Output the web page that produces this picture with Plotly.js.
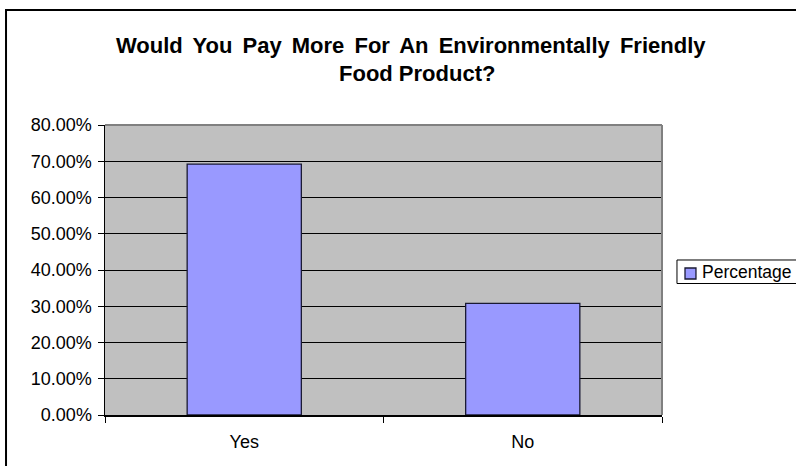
<!DOCTYPE html>
<html>
<head>
<meta charset="utf-8">
<script src="https://cdn.plot.ly/plotly-3.0.1.min.js"></script>
<style>
html,body{margin:0;padding:0;background:#fff;}
#chart{width:796px;height:466px;}
</style>
</head>
<body>
<div id="chart"></div>
<script>
const categories = ["Yes", "No"];
const percentage = [0.6923, 0.3077];
const seriesName = "Percentage";
const seriesColor = "#9999ff";
const titleLines = ["Would You Pay More For An Environmentally Friendly", "Food Product?"];

const FONT = "Liberation Sans, Arial, sans-serif";

const trace = {
  type: "bar",
  x: categories,
  y: percentage,
  name: seriesName,
  marker: {color: seriesColor, line: {color: "#1a1a33", width: 1.3}},
  showlegend: false,
  hoverinfo: "none"
};

const layout = {
  width: 796, height: 466,
  margin: {l: 105, r: 134, t: 125, b: 51, pad: 0, autoexpand: false},
  paper_bgcolor: "#ffffff",
  plot_bgcolor: "#c0c0c0",
  bargap: 0.59,
  showlegend: false,
  xaxis: {
    type: "category",
    showgrid: false,
    showline: true, linecolor: "#000", linewidth: 1.5,
    ticks: "outside", tickson: "boundaries", ticklen: 6, tickcolor: "#000", tickwidth: 1,
    ticklabelstandoff: 10,
    tickfont: {family: FONT, size: 18, color: "#000"},
    zeroline: false, fixedrange: true
  },
  yaxis: {
    range: [0, 0.8], dtick: 0.1, tick0: 0,
    tickformat: ".2%",
    showgrid: true, gridcolor: "#000", gridwidth: 1,
    showline: true, linecolor: "#000", linewidth: 1.5,
    ticks: "outside", ticklen: 6, tickcolor: "#000", tickwidth: 1,
    ticklabelstandoff: 2,
    tickfont: {family: FONT, size: 18, color: "#000"},
    zeroline: false, fixedrange: true
  },
  shapes: [
    {type: "line", xref: "paper", yref: "paper", x0: 0, x1: 1, y0: 1, y1: 1, line: {color: "#808080", width: 2}, layer: "above"},
    {type: "line", xref: "paper", yref: "paper", x0: 1, x1: 1, y0: 0, y1: 1, line: {color: "#808080", width: 2}, layer: "above"},
    {type: "rect", xref: "paper", yref: "paper", x0: -0.1777, x1: 2, y0: -1, y1: 1.3966, line: {color: "#000", width: 2}, fillcolor: "rgba(0,0,0,0)", layer: "above"},
    // legend box and key
    {type: "rect", xref: "paper", yref: "paper", x0: 1.0269, x1: 2, y0: 0.4534, y1: 0.5345, line: {color: "#000", width: 1}, fillcolor: "#ffffff", layer: "above"},
    {type: "rect", xref: "paper", yref: "paper", x0: 1.0413, x1: 1.0610, y0: 0.469, y1: 0.5069, line: {color: "#1a1a33", width: 1.3}, fillcolor: seriesColor, layer: "above"}
  ],
  annotations: [
    {text: "<b>" + titleLines[0] + "</b>", xref: "paper", yref: "paper", x: 0.55, y: 1.275, xanchor: "center", yanchor: "middle", showarrow: false, font: {family: FONT, size: 22, color: "#000"}},
    {text: "<b>" + titleLines[1] + "</b>", xref: "paper", yref: "paper", x: 0.56, y: 1.178, xanchor: "center", yanchor: "middle", showarrow: false, font: {family: FONT, size: 22, color: "#000"}},
    {text: seriesName, xref: "paper", yref: "paper", x: 1.068, y: 0.4948, xanchor: "left", yanchor: "middle", showarrow: false, font: {family: FONT, size: 17.5, color: "#000"}}
  ]
};

Plotly.newPlot("chart", [trace], layout, {displayModeBar: false, staticPlot: true}).then(function (gd) {
  const t = gd.querySelectorAll(".annotation-text");
  if (t.length) t[0].style.wordSpacing = "4px";
});
</script>
</body>
</html>
